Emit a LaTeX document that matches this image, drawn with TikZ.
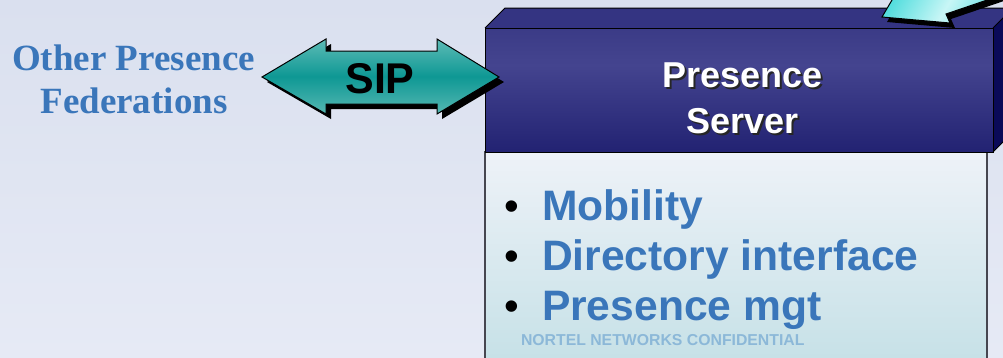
\documentclass[tikz,border=0pt]{standalone}
\usepackage{fontspec}
\setmainfont{Liberation Sans}
\newfontfamily\serifbold{Liberation Serif}
\definecolor{bgtop}{RGB}{218,224,239}
\definecolor{bgbot}{RGB}{230,234,245}
\definecolor{lbtop}{RGB}{238,242,248}
\definecolor{lbbot}{RGB}{196,224,230}
\definecolor{boxgray}{RGB}{70,70,80}
\definecolor{dktop}{RGB}{44,44,120}
\definecolor{dkmid}{RGB}{68,68,143}
\definecolor{dkbot}{RGB}{10,10,94}
\definecolor{dktopface}{RGB}{52,52,130}
\definecolor{dkside}{RGB}{10,10,88}
\definecolor{siplight}{RGB}{172,222,216}
\definecolor{siplight2}{RGB}{156,214,208}
\definecolor{sipteal}{RGB}{14,152,148}
\definecolor{cyanA}{RGB}{48,214,214}
\definecolor{cyanB}{RGB}{200,246,246}
\definecolor{txtblue}{RGB}{58,118,186}
\definecolor{confblue}{RGB}{140,184,216}
\pgfdeclareverticalshading{darkface}{100bp}{color(0bp)=(dkbot); color(60bp)=(dkmid); color(100bp)=(dktop)}
\pgfdeclareverticalshading{sipgrad}{100bp}{color(0bp)=(siplight2); color(50bp)=(sipteal); color(100bp)=(siplight)}
\newcommand{\shadowtext}[1]{\makebox[0pt][l]{\hspace{2pt}\raisebox{-2pt}{\color{black!85}#1}}#1}
\begin{document}
\begin{tikzpicture}[x=1pt,y=-1pt,
  lbl/.style={inner sep=0pt, outer sep=0pt, anchor=base},
  lblw/.style={inner sep=0pt, outer sep=0pt, anchor=base west},
  edge/.style={draw=black, line width=1pt, line join=miter},
  bigsans/.style={font=\fontsize{43}{50}\selectfont\bfseries},
  srvtext/.style={font=\fontsize{36}{44}\selectfont\bfseries, text=white},
  bullettext/.style={font=\fontsize{42.6}{50}\selectfont\bfseries, text=txtblue},
  bulletdot/.style={font=\fontsize{42}{50}\selectfont, text=black, inner sep=0pt, anchor=base},
  fedtext/.style={font=\serifbold\fontsize{37}{43}\selectfont\bfseries, text=txtblue}]
\useasboundingbox (0,0) rectangle (1003,357);
\clip (0,0) rectangle (1003,357);
% background
\shade[top color=bgtop,bottom color=bgbot] (0,0) rectangle (1003,357);
% light lower box
\shade[top color=lbtop,bottom color=lbbot] (485,152) rectangle (987,372);
\draw[boxgray,line width=1.3pt] (485,372)--(485,152)--(987,152)--(987,372);
% dark server box
\shade[shading=darkface] (485,28) rectangle (993,152);
\fill[dktopface] (485,28)--(505,8)--(1013,8)--(993,28)--cycle;
\fill[dkside] (993,28)--(1013,8)--(1013,132)--(993,152)--cycle;
\draw[edge] (485,28) rectangle (993,152);
\draw[edge] (485,28)--(505,8)--(1013,8)--(993,28);
\draw[edge] (993,152)--(1013,132);
% top-right arrow (shadow, fill, outline)
\begin{scope}[shift={(5,5)}]
\fill[black] (882,17)--(950,23)--(946,14)--(1040,-18)--(1040,-60)--(902,-17)--cycle;
\end{scope}
\shade[left color=cyanA,right color=cyanA,middle color=cyanB,shading angle=60] (882,17)--(950,23)--(946,14)--(1040,-18)--(1040,-60)--(902,-17)--cycle;
\draw[edge] (882,17)--(950,23)--(946,14)--(1040,-18)--(1040,-60)--(902,-17)--cycle;
% SIP double arrow
\begin{scope}[shift={(5,5)}]
\fill[black] (262,77)--(326,39)--(326,51)--(437,51)--(437,39)--(499,77)--(437,114)--(437,104)--(326,104)--(326,114)--cycle;
\end{scope}
\shade[shading=sipgrad] (262,77)--(326,39)--(326,51)--(437,51)--(437,39)--(499,77)--(437,114)--(437,104)--(326,104)--(326,114)--cycle;
\draw[edge] (262,77)--(326,39)--(326,51)--(437,51)--(437,39)--(499,77)--(437,114)--(437,104)--(326,104)--(326,114)--cycle;
\node[lbl,bigsans] (sip) at (380,93) {SIP};
% left labels
\node[lbl,fedtext] (fed1) at (133.5,70) {Other Presence};
\node[lbl,fedtext] (fed2) at (134,113) {Federations};
% server title with shadow
\node[lbl,srvtext] (srv1) at (742.5,87) {\shadowtext{Presence}};
\node[lbl,srvtext] (srv2) at (742.5,133) {\shadowtext{Server}};
% bullets
\node[bulletdot] (b1) at (512,220) {•};
\node[bulletdot] (b2) at (512,270) {•};
\node[bulletdot] (b3) at (512,320) {•};
\node[lblw,bullettext] (t1) at (542,220) {Mobility};
\node[lblw,bullettext] (t2) at (542,270) {Directory interface};
\node[lblw,bullettext] (t3) at (542,320) {Presence mgt};
\node[lblw,font=\fontsize{15.8}{18}\selectfont\bfseries,text=confblue] (conf) at (521,345) {NORTEL NETWORKS CONFIDENTIAL};
\end{tikzpicture}
\end{document}
